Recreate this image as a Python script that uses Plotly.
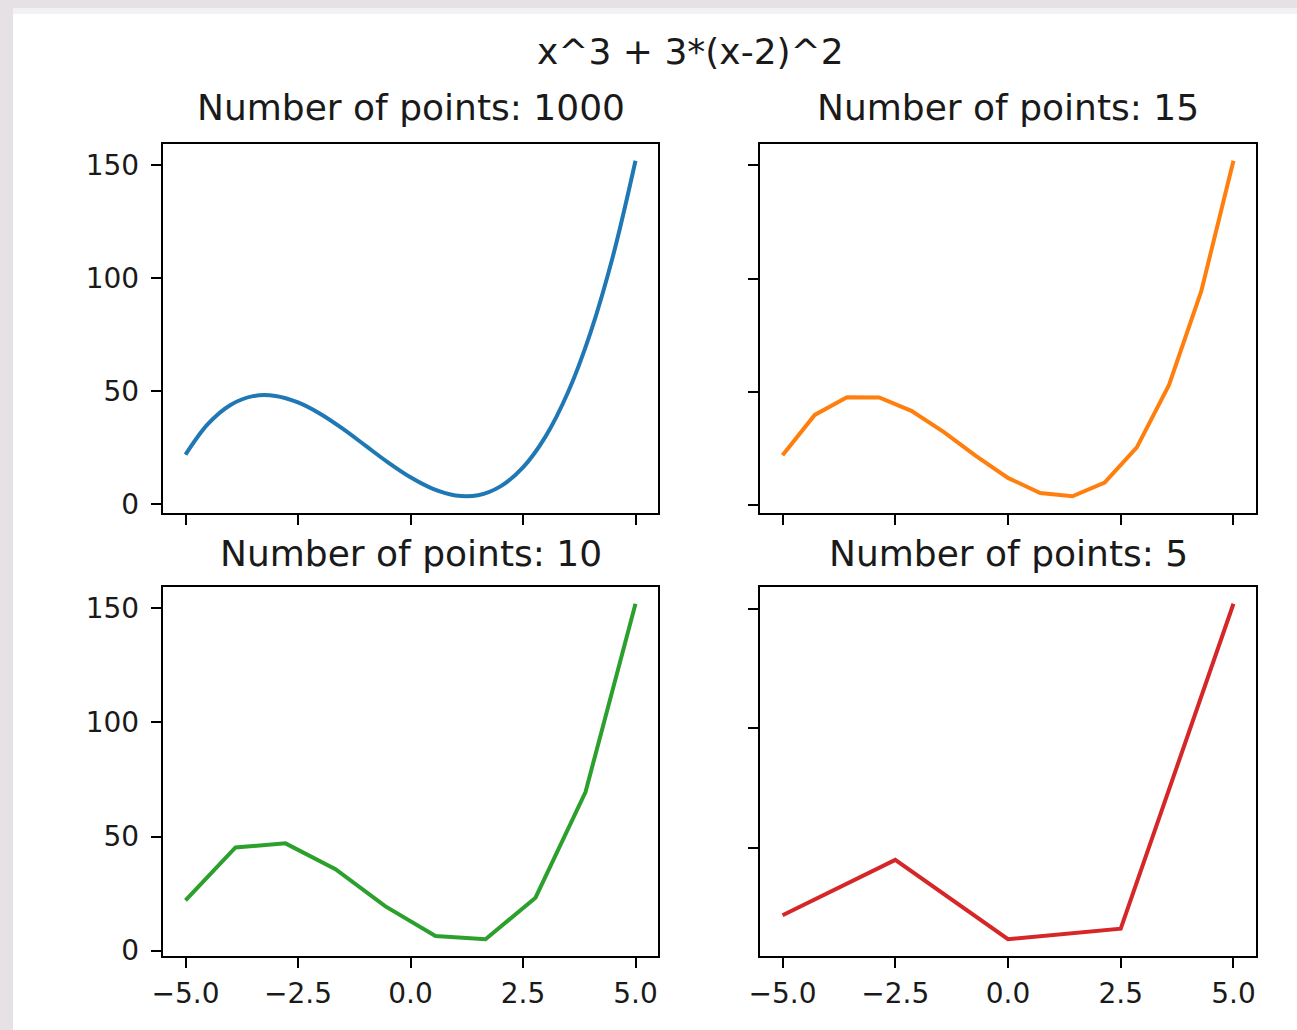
import plotly.graph_objects as go

# ---- data ----
suptitle = "x^3 + 3*(x-2)^2"
titles = ["Number of points: 1000", "Number of points: 15",
          "Number of points: 10", "Number of points: 5"]

x_1000 = [-5.0, -4.5, -4.0, -3.5, -3.0, -2.5, -2.0, -1.5, -1.0, -0.5, 0.0,
          0.5, 1.0, 1.5, 2.0, 2.5, 3.0, 3.5, 4.0, 4.5, 5.0]
y_1000 = [22.0, 35.6, 44.0, 47.9, 48.0, 45.1, 40.0, 33.4, 26.0, 18.6, 12.0,
          6.9, 4.0, 4.1, 8.0, 16.4, 30.0, 49.6, 76.0, 109.9, 152.0]

x_15 = [-5.0, -4.286, -3.571, -2.857, -2.143, -1.429, -0.714, 0.0,
        0.714, 1.429, 2.143, 2.857, 3.571, 4.286, 5.0]
y_15 = [22.0, 39.8, 47.6, 47.5, 41.6, 32.3, 21.7, 12.0,
        5.3, 3.9, 9.9, 25.5, 53.0, 94.4, 152.0]

x_10 = [-5.0, -3.889, -2.778, -1.667, -0.556, 0.556, 1.667, 2.778, 3.889, 5.0]
y_10 = [22.0, 45.2, 47.0, 35.7, 19.4, 6.4, 5.0, 23.2, 69.5, 152.0]

x_5 = [-5.0, -2.5, 0.0, 2.5, 5.0]
y_5 = [22.0, 45.1, 12.0, 16.4, 152.0]

x_ticks = [-5.0, -2.5, 0.0, 2.5, 5.0]
x_tick_text = ["\u22125.0", "\u22122.5", "0.0", "2.5", "5.0"]
y_ticks = [0, 50, 100, 150]

colors = ["#1f77b4", "#ff7f0e", "#2ca02c", "#d62728"]

# ---- figure ----
W, H = 1297, 1030
FONT = "DejaVu Sans"

fig = go.Figure()
series = [(x_1000, y_1000, "spline"), (x_15, y_15, "linear"),
          (x_10, y_10, "linear"), (x_5, y_5, "linear")]
for i, (xs, ys, shape) in enumerate(series):
    sfx = "" if i == 0 else str(i + 1)
    fig.add_trace(go.Scatter(x=xs, y=ys, mode="lines",
                             line=dict(color=colors[i], width=4, shape=shape),
                             xaxis="x" + sfx, yaxis="y" + sfx,
                             showlegend=False, hoverinfo="skip"))

def px_x(p):
    return p / W

def px_y(p):
    return 1 - p / H

col_dom = [[px_x(163), px_x(658)], [px_x(760), px_x(1256)]]
row_dom = [[px_y(513), px_y(144)], [px_y(956), px_y(587)]]

y_ranges = [[-3.78, 159.4], [-3.5, 159.4], [-2.35, 159.35], [5.0, 159.0]]

axis_common = dict(showline=True, linecolor="black", linewidth=2.4, mirror=True,
                   ticks="outside", ticklen=10, tickwidth=2.4, tickcolor="black",
                   showgrid=False, zeroline=False, automargin=False,
                   tickfont=dict(family=FONT, size=28, color="#1a1a1a"))

layout = {}
for i in range(4):
    r, c = divmod(i, 2)
    sfx = "" if i == 0 else str(i + 1)
    layout["xaxis" + sfx] = dict(axis_common, domain=col_dom[c], anchor="y" + sfx,
                                 range=[-5.5, 5.5], tickmode="array",
                                 tickvals=x_ticks, ticktext=x_tick_text,
                                 showticklabels=(r == 1), ticklabelstandoff=1)
    layout["yaxis" + sfx] = dict(axis_common, domain=row_dom[r], anchor="x" + sfx,
                                 range=y_ranges[i], tickmode="array",
                                 tickvals=y_ticks,
                                 showticklabels=(c == 0), ticklabelstandoff=6)

annotations = [dict(text=suptitle, x=px_x(690), y=px_y(52), xref="paper", yref="paper",
                    xanchor="center", yanchor="middle", showarrow=False,
                    font=dict(family=FONT, size=36, color="#1a1a1a"))]
title_pos = [(410.5, 108), (1008, 108), (410.5, 553), (1008, 553)]
for t, (tx, ty) in zip(titles, title_pos):
    annotations.append(dict(text=t, x=px_x(tx), y=px_y(ty), xref="paper", yref="paper",
                            xanchor="center", yanchor="middle", showarrow=False,
                            font=dict(family=FONT, size=36, color="#1a1a1a")))

shapes = [
    dict(type="rect", xref="paper", yref="paper", x0=0, x1=1, y0=px_y(8), y1=1,
         fillcolor="#e6e1e5", line=dict(width=0), layer="below"),
    dict(type="rect", xref="paper", yref="paper", x0=0, x1=px_x(13), y0=0, y1=1,
         fillcolor="#e6e1e5", line=dict(width=0), layer="below"),
    dict(type="rect", xref="paper", yref="paper", x0=px_x(13), x1=1, y0=px_y(14), y1=px_y(8),
         fillcolor="#f2f2f2", line=dict(width=0), layer="below"),
]

fig.update_layout(width=W, height=H,
                  margin=dict(l=0, r=0, t=0, b=0, pad=0, autoexpand=False),
                  paper_bgcolor="white", plot_bgcolor="white",
                  annotations=annotations, shapes=shapes,
                  font=dict(family=FONT), **layout)

fig.write_html("out.html", config={"displayModeBar": False},
               post_script="document.body.style.margin='0';"
                           "document.body.style.padding='0';"
                           "document.body.style.overflow='hidden';")
